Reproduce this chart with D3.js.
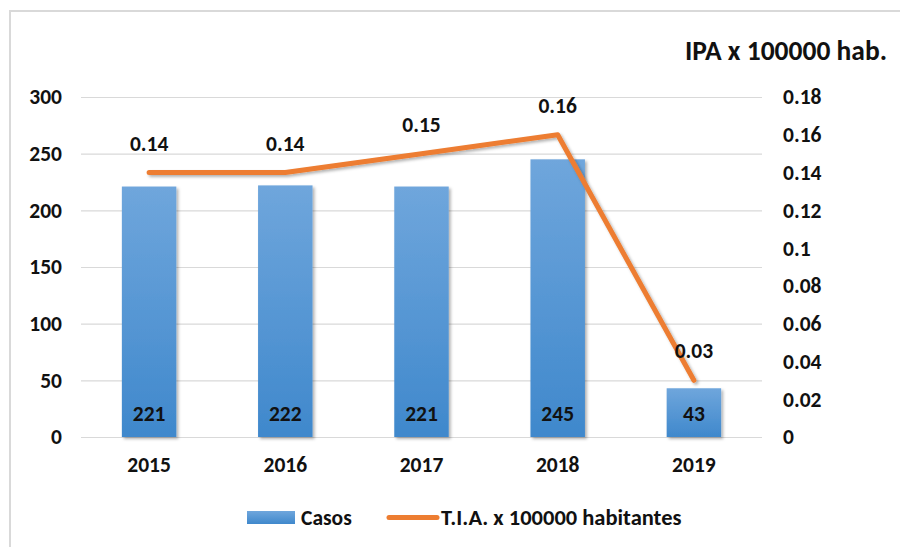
<!DOCTYPE html>
<html>
<head>
<meta charset="utf-8">
<script src="https://cdn.jsdelivr.net/npm/d3@7"></script>
<style>
  html, body { margin: 0; padding: 0; background: #fff; }
  svg { display: block; }
  text { font-family: Carlito, Lato, "Open Sans", sans-serif; fill: #111; }
</style>
</head>
<body>
<svg id="chart" width="900" height="547"></svg>
<script>
// Annual cases and incidence rate per 100 000 inhabitants
const years = ["2015", "2016", "2017", "2018", "2019"];
const casos = [221, 222, 221, 245, 43];
const tia = [0.14, 0.14, 0.15, 0.16, 0.03];
const leftTicks = [0, 50, 100, 150, 200, 250, 300];
const rightTicks = [0, 0.02, 0.04, 0.06, 0.08, 0.1, 0.12, 0.14, 0.16, 0.18];
const seriesNames = ["Casos", "T.I.A. x 100000 habitantes"];
const rightTitle = "IPA x 100000 hab.";

const svg = d3.select("#chart");
const plot = { left: 81, right: 762, top: 97, bottom: 437 };
const FS = 21.5;

const defs = svg.append("defs");
const grad = defs.append("linearGradient")
  .attr("id", "barGrad").attr("x1", 0).attr("y1", 0).attr("x2", 0).attr("y2", 1);
grad.append("stop").attr("offset", "0%").attr("stop-color", "#6fa6dc");
grad.append("stop").attr("offset", "100%").attr("stop-color", "#3f88cc");

const shadow = defs.append("filter").attr("id", "shadow")
  .attr("x", "-20%").attr("y", "-20%").attr("width", "150%").attr("height", "150%");
shadow.append("feDropShadow")
  .attr("dx", 2).attr("dy", 2).attr("stdDeviation", 1.6)
  .attr("flood-color", "#000").attr("flood-opacity", 0.3);

// chart area frame (only left and top edges fall inside the view)
svg.append("rect")
  .attr("x", 10).attr("y", 11).attr("width", 1000).attr("height", 700)
  .attr("fill", "none").attr("stroke", "#d9d9d9").attr("stroke-width", 2);

const x = d3.scaleBand().domain(years)
  .range([plot.left, plot.right]).paddingInner(0.6).paddingOuter(0.3);
const yL = d3.scaleLinear().domain([0, 300]).range([plot.bottom, plot.top]);
const yR = d3.scaleLinear().domain([0, 0.18]).range([plot.bottom, plot.top]);
const cx = d => x(d) + x.bandwidth() / 2;

function styleTicks(g) {
  g.select(".domain").remove();
  g.selectAll("text").attr("font-size", FS).attr("font-weight", 700)
    .attr("font-family", "Carlito, Lato, sans-serif").attr("fill", "#111");
}

// gridlines
svg.append("g").selectAll("line").data(leftTicks).join("line")
  .attr("x1", plot.left).attr("x2", plot.right)
  .attr("y1", d => yL(d) + 0.5).attr("y2", d => yL(d) + 0.5)
  .attr("stroke", "#d9d9d9").attr("stroke-width", 1.2);

// left axis
svg.append("g").attr("transform", `translate(${plot.left},0)`)
  .call(d3.axisLeft(yL).tickValues(leftTicks).tickSize(0).tickPadding(19).tickFormat(d3.format("d")))
  .call(styleTicks);

// right axis
svg.append("g").attr("transform", `translate(${plot.right},0)`)
  .call(d3.axisRight(yR).tickValues(rightTicks).tickSize(0).tickPadding(21)
    .tickFormat(d => String(+d.toFixed(2))))
  .call(styleTicks);

// x axis labels
svg.append("g").attr("transform", `translate(0,${plot.bottom})`)
  .call(d3.axisBottom(x).tickSize(0).tickPadding(20))
  .call(styleTicks);

// right axis title
svg.append("text").attr("x", 887).attr("y", 60).attr("text-anchor", "end")
  .attr("font-size", 27.5).attr("font-weight", 700).text(rightTitle);

// bars
svg.append("g").selectAll("rect").data(years).join("rect")
  .attr("x", d => x(d)).attr("width", x.bandwidth())
  .attr("y", (d, i) => yL(casos[i]))
  .attr("height", (d, i) => yL(0) - yL(casos[i]))
  .attr("fill", "url(#barGrad)").attr("filter", "url(#shadow)");

// bar value labels
svg.append("g").selectAll("text").data(years).join("text")
  .attr("x", d => cx(d)).attr("y", plot.bottom - 16)
  .attr("text-anchor", "middle").attr("font-size", FS).attr("font-weight", 700)
  .text((d, i) => casos[i]);

// line
const line = d3.line().x(d => cx(d[0])).y(d => yR(d[1]));
svg.append("path").datum(years.map((d, i) => [d, tia[i]]))
  .attr("d", line).attr("fill", "none").attr("stroke", "#ed7d31")
  .attr("stroke-width", 5).attr("stroke-linecap", "round").attr("stroke-linejoin", "round")
  .attr("filter", "url(#shadow)");

// line value labels
svg.append("g").selectAll("text").data(years).join("text")
  .attr("x", d => cx(d)).attr("y", (d, i) => yR(tia[i]) - 22)
  .attr("text-anchor", "middle").attr("font-size", FS).attr("font-weight", 700)
  .text((d, i) => tia[i].toFixed(2));

// legend
const lg = svg.append("g");
lg.append("rect").attr("x", 247).attr("y", 511).attr("width", 48).attr("height", 13)
  .attr("fill", "url(#barGrad)");
lg.append("text").attr("x", 301).attr("y", 525).attr("font-size", FS).attr("font-weight", 700)
  .text(seriesNames[0]);
lg.append("line").attr("x1", 389).attr("x2", 437).attr("y1", 517.5).attr("y2", 517.5)
  .attr("stroke", "#ed7d31").attr("stroke-width", 5).attr("stroke-linecap", "round");
lg.append("text").attr("x", 441).attr("y", 525).attr("font-size", 22.5).attr("font-weight", 700)
  .text(seriesNames[1]);
</script>
</body>
</html>
